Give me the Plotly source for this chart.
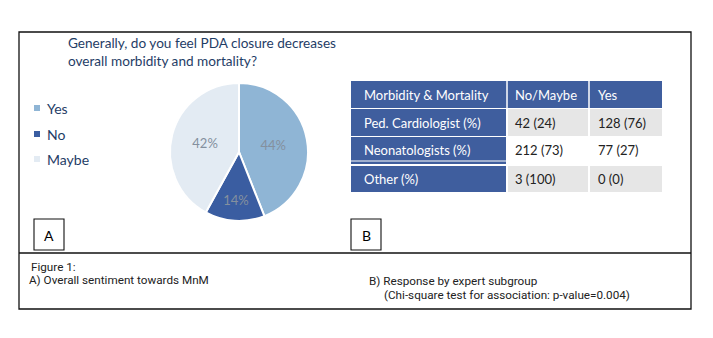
import plotly.graph_objects as go

W, H = 713, 338

# ---------------- data ----------------
pie_labels = ["Yes", "No", "Maybe"]
pie_values = [44, 14, 42]
pie_colors = ["#8FB5D5", "#3A5DA1", "#E3EBF3"]

title_text = "Generally, do you feel PDA closure decreases<br>overall morbidity and mortality?"

table_header = ["Morbidity & Mortality", "No/Maybe", "Yes"]
row_labels = ["Ped. Cardiologist (%)", "Neonatologists (%)", "Other (%)"]
no_maybe_n = [42, 212, 3]
no_maybe_pct = [24, 73, 100]
yes_n = [128, 77, 0]
yes_pct = [76, 27, 0]

caption_lines_a = ["Figure 1:", "A) Overall sentiment towards MnM"]
caption_lines_b = ["B) Response by expert subgroup", "(Chi-square test for association: p-value=0.004)"]
panel_letters = ["A", "B"]

# ---------------- helpers ----------------
def X(px):
    return px / W

def Y(py):
    return 1 - py / H

BLUE = "#3F5E9E"
GRAY = "#E6E6E6"
NAVY = "#1F3D66"
MAIN_FONT = "Lato, Carlito, Calibri, sans-serif"
CAP_FONT = "Liberation Sans Narrow, Arial Narrow, Roboto, sans-serif"

shapes = []
annotations = []

def rect(x0, y0, x1, y1, fill=None, line_color=None, lw=0):
    shapes.append(dict(type="rect", xref="paper", yref="paper",
                       x0=X(x0), x1=X(x1), y0=Y(y1), y1=Y(y0),
                       fillcolor=fill if fill else "rgba(0,0,0,0)",
                       line=dict(color=line_color if line_color else "rgba(0,0,0,0)", width=lw),
                       layer="below" if fill else "above"))

def text(x, y, s, size=13, color="#000", family=MAIN_FONT, xanchor="left", align="left"):
    annotations.append(dict(x=X(x), y=Y(y), xref="paper", yref="paper", text=s,
                            showarrow=False, xanchor=xanchor, yanchor="middle", align=align,
                            font=dict(size=size, color=color, family=family)))

# outer frame and divider
rect(19, 32, 691, 309, line_color="#111", lw=1.3)
shapes.append(dict(type="line", xref="paper", yref="paper", x0=X(19), x1=X(691),
                   y0=Y(253), y1=Y(253), line=dict(color="#111", width=1.3)))

# panel letter boxes
for (bx, letter) in zip([34, 351], panel_letters):
    rect(bx, 219, bx + 30, 250, line_color="#111", lw=1.1)
    text(bx + 15, 235, letter, size=14, color="#000", xanchor="center", align="center")

# title
text(66, 52, title_text, size=13.6, color=NAVY)

# custom legend
leg_y = [108, 134, 159]
for lab, col, ly in zip(pie_labels, pie_colors, leg_y):
    rect(34, ly - 3, 40, ly + 3, fill=col)
    text(45, ly, lab, size=14, color=NAVY)

# table
row_bounds = [(109, 136), (137, 164), (166, 192)]
col_bounds = [(351, 506), (508, 588), (590, 662)]
text_x = [362, 513, 596]
rect(351, 81, 662, 108, fill=BLUE)
shapes.append(dict(type="line", xref="paper", yref="paper", x0=X(507), x1=X(507),
                   y0=Y(81), y1=Y(108), line=dict(color="white", width=1.5)))
shapes.append(dict(type="line", xref="paper", yref="paper", x0=X(589), x1=X(589),
                   y0=Y(81), y1=Y(108), line=dict(color="white", width=1.5)))
for hx, h in zip(text_x, table_header):
    text(hx, 95, h, size=13, color="white")

for i, (r0, r1) in enumerate(row_bounds):
    rect(col_bounds[0][0], r0, col_bounds[0][1], r1, fill=BLUE)
    bg = GRAY if i != 1 else "white"
    rect(col_bounds[1][0], r0, col_bounds[1][1], r1, fill=bg)
    rect(col_bounds[2][0], r0, col_bounds[2][1], r1, fill=bg)
    cy = (r0 + r1) / 2 if i != 1 else 150
    text(text_x[0], cy, row_labels[i], size=13, color="white")
    text(text_x[1], cy, f"{no_maybe_n[i]} ({no_maybe_pct[i]})", size=13, color="#222")
    text(text_x[2], cy, f"{yes_n[i]} ({yes_pct[i]})", size=13, color="#222")

# thin white line in row 2 (as in reference)
shapes.append(dict(type="line", xref="paper", yref="paper", x0=X(351), x1=X(506),
                   y0=Y(161), y1=Y(161), line=dict(color="white", width=1)))

# captions
text(29, 267, caption_lines_a[0], size=11.7, color="#222", family=CAP_FONT)
text(27, 280, caption_lines_a[1], size=11.7, color="#222", family=CAP_FONT)
text(367, 281, caption_lines_b[0], size=11.7, color="#222", family=CAP_FONT)
text(382, 295, caption_lines_b[1], size=11.7, color="#222", family=CAP_FONT)

# pie
cx, cy, r = 239, 152, 69
fig = go.Figure(go.Pie(
    labels=pie_labels, values=pie_values, sort=False, direction="clockwise", rotation=0,
    marker=dict(colors=pie_colors, line=dict(color="white", width=2)),
    textinfo="percent", textposition="inside", insidetextorientation="horizontal",
    textfont=dict(size=13, color="#84909E", family=MAIN_FONT),
    domain=dict(x=[X(cx - r), X(cx + r)], y=[Y(cy + r), Y(cy - r)]),
    showlegend=False, hoverinfo="label+percent",
))

fig.update_layout(
    width=W, height=H, margin=dict(l=0, r=0, t=0, b=0),
    paper_bgcolor="white", plot_bgcolor="white",
    shapes=shapes, annotations=annotations,
    uniformtext=dict(minsize=13, mode="show"),
)

fig.write_html("out.html")
